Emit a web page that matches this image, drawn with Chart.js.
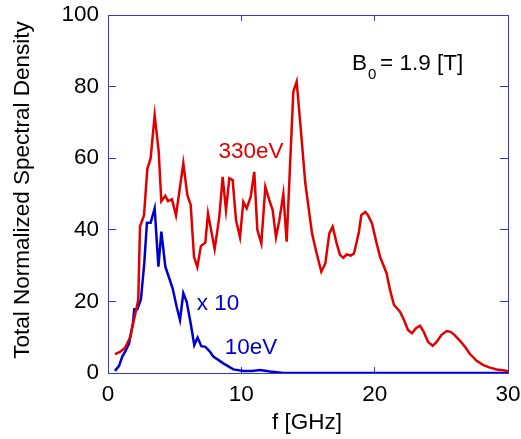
<!DOCTYPE html>
<html>
<head>
<meta charset="utf-8">
<script src="https://cdn.jsdelivr.net/npm/chart.js@4"></script>
<style>
  body { margin: 0; background: #fff; }
  canvas { display: block; }
</style>
</head>
<body>
<canvas id="chart" width="521" height="439"></canvas>
<script>
// 330 eV spectrum
const redFreq = [0.52, 0.9, 1.27, 1.65, 2.0, 2.27, 2.4, 2.7, 2.95, 3.2, 3.5, 3.8, 4.0, 4.3, 4.5, 4.8, 5.1,
  5.65, 5.95, 6.2, 6.45, 6.7, 6.97, 7.3, 7.5, 8.0, 8.35, 8.6, 8.85, 9.1, 9.35, 9.6, 9.9, 10.15, 10.4,
  10.7, 10.97, 11.2, 11.5, 11.8, 12.1, 12.35, 12.6, 12.85, 13.15, 13.4, 13.9, 14.15, 14.4, 14.8, 15.3,
  15.65, 16.0, 16.3, 16.6, 16.85, 17.15, 17.4, 17.65, 17.9, 18.2, 18.45, 18.8, 19.0, 19.3, 19.5, 19.8,
  20.15, 20.4, 20.9, 21.15, 21.45, 21.9, 22.2, 22.5, 22.8, 23.1, 23.4, 23.65, 24.0, 24.35, 24.65, 25.0,
  25.4, 25.7, 26.0, 26.4, 26.8, 27.15, 27.65, 28.15, 28.65, 29.15, 29.65, 30.0];
const redDensity = [5.3, 5.9, 7.0, 9.8, 15.7, 20.4, 40.9, 44, 57, 60, 72, 62, 48, 49.5, 48, 48.5, 44,
  58.6, 49.7, 47, 32.5, 29.6, 35.5, 36.4, 44.6, 34.6, 43.7, 54.8, 45.5, 54.4, 53.9, 42.7, 37.9, 47.8, 46,
  49.2, 56.2, 40, 36.2, 52, 48.3, 45.5, 37.9, 42.7, 50, 36.7, 78.6, 81.4, 70.7, 53, 39,
  33.4, 28.3, 30.6, 39, 40.9, 36.2, 33, 32.2, 33.1, 32.8, 33.4, 39, 44.1, 45, 44.1, 41.8,
  36.2, 32.5, 27.8, 23.2, 19, 17.1, 14.8, 12, 11.1, 12.5, 13.2, 11.7, 8.7, 7.6, 8.7, 10.6,
  11.7, 11.5, 10.6, 9.0, 7.2, 5.3, 3.4, 2.2, 1.5, 1.0, 0.75, 0.5];

// 10 eV spectrum (x 10)
const blueFreq = [0.52, 0.83, 1.07, 1.3, 1.58, 1.87, 1.97, 2.2, 2.47, 2.72, 2.92, 3.2, 3.5, 3.78, 4.0,
  4.3, 4.6, 4.85, 5.15, 5.4, 5.65, 5.9, 6.2, 6.47, 6.72, 7.0, 7.3, 7.65, 7.9, 8.65, 9.4, 10.15, 10.8,
  11.4, 12.15, 13.15, 30.0];
const blueDensity = [0.6, 2, 4.6, 6, 8.3, 13.9, 17.8, 17.8, 20.6, 30.6, 42, 42, 46, 29.7, 39.5,
  29.7, 26.4, 23.6, 18.5, 14.8, 22.3, 19.9, 13.9, 7.8, 9.9, 7.5, 7.3, 5.95, 4.6, 2.7, 1.0, 0.56, 0.56,
  0.84, 0.4, 0, 0];

const xTicks = [0, 10, 20, 30];
const yTicks = [0, 20, 40, 60, 80, 100];

const FONT = "'Liberation Sans', Arial, sans-serif";
const FONT_SIZE = 22.5;
const AXIS_COLOR = "#3535dd";

function toPoints(xs, ys) {
  return xs.map((x, i) => ({ x: x, y: ys[i] }));
}

// axis titles and annotations
const notesPlugin = {
  id: "notes",
  afterDraw(chart) {
    const c = chart.ctx;
    c.save();
    c.textBaseline = "middle";
    c.textAlign = "center";
    c.font = FONT_SIZE + "px " + FONT;
    c.fillStyle = "#000";
    c.fillText("f [GHz]", 307, 423);
    c.save();
    c.translate(23, 190);
    c.rotate(-Math.PI / 2);
    c.fillText("Total Normalized Spectral Density", 0, 0);
    c.restore();

    c.fillStyle = "#e00000";
    c.fillText("330eV", 251, 152);
    c.fillStyle = "#0000cc";
    c.fillText("x 10", 218, 304);
    c.fillText("10eV", 251, 348);

    c.fillStyle = "#000";
    c.textAlign = "left";
    c.textBaseline = "alphabetic";
    c.fillText("B", 352, 70);
    const bw = c.measureText("B").width;
    c.font = "15px " + FONT;
    c.fillText("0", 352 + bw + 1, 79);
    c.font = FONT_SIZE + "px " + FONT;
    c.fillText("= 1.9 [T]", 352 + bw + 13, 70);
    c.restore();
  }
};

const frameBorder = { display: true, color: AXIS_COLOR, width: 1 };
// negative tick length draws the tick marks inside the plot box
const innerX = { display: true, drawOnChartArea: false, drawTicks: true, tickLength: -6, color: AXIS_COLOR, lineWidth: 1 };
const innerY = { display: true, drawOnChartArea: false, drawTicks: true, tickLength: -8, color: AXIS_COLOR, lineWidth: 1 };
const setXTicks = (s) => { s.ticks = xTicks.map((v) => ({ value: v })); };
const setYTicks = (s) => { s.ticks = yTicks.map((v) => ({ value: v })); };

const chart = new Chart(document.getElementById("chart").getContext("2d"), {
  type: "line",
  data: {
    datasets: [
      {
        label: "330eV",
        data: toPoints(redFreq, redDensity),
        borderColor: "#e00000",
        borderWidth: 2.5,
        pointRadius: 0,
        tension: 0,
        fill: false,
      },
      {
        label: "10eV x 10",
        data: toPoints(blueFreq, blueDensity),
        borderColor: "#0000cc",
        borderWidth: 2.5,
        pointRadius: 0,
        tension: 0,
        fill: false,
      },
    ],
  },
  options: {
    responsive: false,
    animation: false,
    devicePixelRatio: 1,
    layout: { padding: { top: 15, right: 13, left: 0, bottom: 0 } },
    plugins: { legend: { display: false }, tooltip: { enabled: false } },
    scales: {
      x: {
        type: "linear",
        position: "bottom",
        min: 0,
        max: 30,
        afterFit: (s) => { s.height = 66; s.paddingLeft = 0; s.paddingRight = 0; },
        afterBuildTicks: setXTicks,
        grid: innerX,
        border: frameBorder,
        ticks: { color: "#000", padding: 14, font: { family: FONT, size: FONT_SIZE } },
      },
      xTop: {
        type: "linear",
        position: "top",
        min: 0,
        max: 30,
        afterFit: (s) => { s.height = 0; s.paddingLeft = 0; s.paddingRight = 0; },
        afterBuildTicks: setXTicks,
        grid: innerX,
        border: frameBorder,
        ticks: { display: false },
      },
      y: {
        position: "left",
        min: 0,
        max: 100,
        afterFit: (s) => { s.width = 108; s.paddingTop = 0; s.paddingBottom = 0; },
        afterBuildTicks: setYTicks,
        grid: innerY,
        border: frameBorder,
        ticks: { color: "#000", padding: 17, font: { family: FONT, size: FONT_SIZE } },
      },
      yRight: {
        position: "right",
        min: 0,
        max: 100,
        afterFit: (s) => { s.width = 0; s.paddingTop = 0; s.paddingBottom = 0; },
        afterBuildTicks: setYTicks,
        grid: innerY,
        border: frameBorder,
        ticks: { display: false },
      },
    },
  },
  plugins: [notesPlugin],
});
</script>
</body>
</html>
